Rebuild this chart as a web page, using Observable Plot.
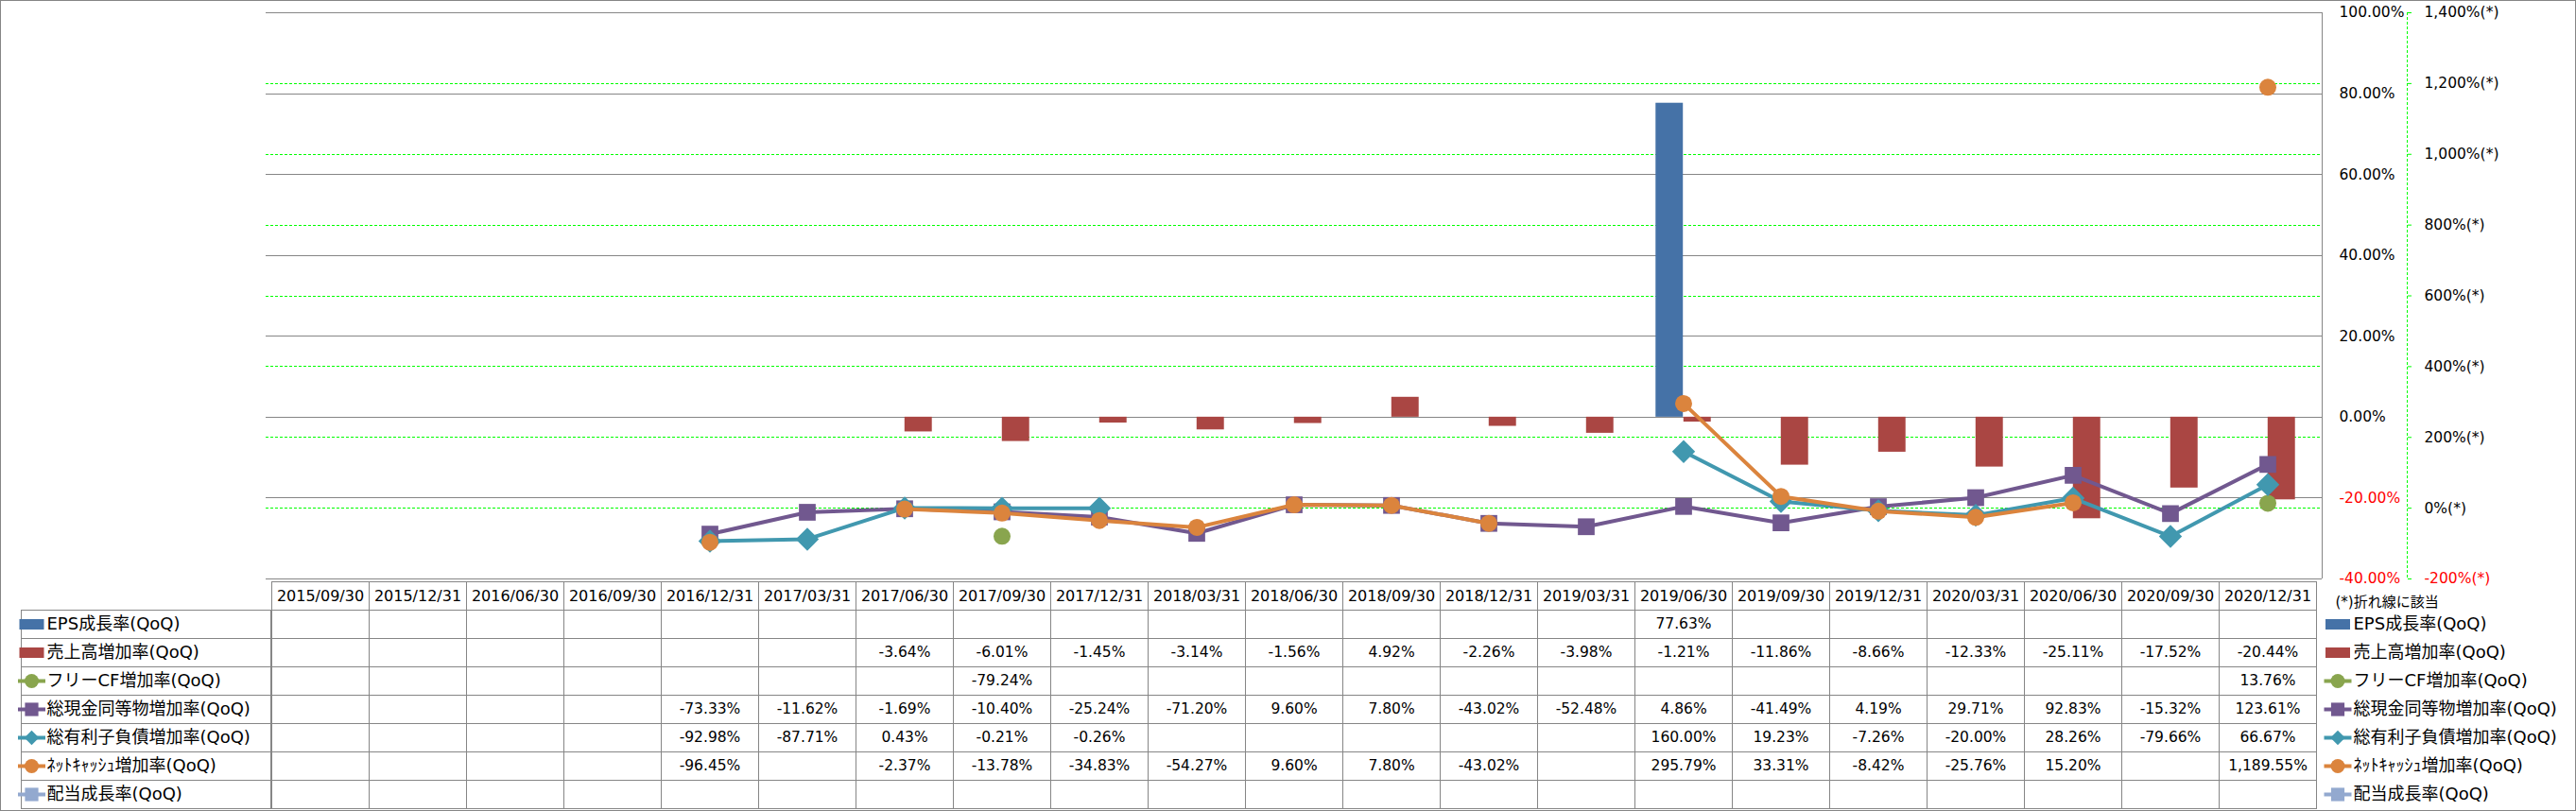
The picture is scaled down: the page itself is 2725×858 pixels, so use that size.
<!DOCTYPE html>
<html><head><meta charset="utf-8">
<script src="https://cdn.jsdelivr.net/npm/d3@7"></script>
<script src="https://cdn.jsdelivr.net/npm/@observablehq/plot@0.6"></script>
<style>
html,body{margin:0;padding:0;background:#fff;}
#wrap{position:relative;width:2725px;height:858px;overflow:hidden;background:#fff;}
#chart,#table{position:absolute;left:0;width:2725px;}
#chart{top:0;z-index:2;}
#table{top:612px;z-index:1;}
#border{position:absolute;left:0;top:0;width:2725px;height:858px;box-sizing:border-box;border:1px solid #868686;z-index:3;pointer-events:none;}
svg{overflow:visible;}
</style></head>
<body><div id="wrap"><div id="chart"></div><div id="table"></div><div id="border"></div></div>
<script>
// ---------- data ----------
const dates = ["2015/09/30","2015/12/31","2016/06/30","2016/09/30","2016/12/31","2017/03/31","2017/06/30","2017/09/30","2017/12/31","2018/03/31","2018/06/30","2018/09/30","2018/12/31","2019/03/31","2019/06/30","2019/09/30","2019/12/31","2020/03/31","2020/06/30","2020/09/30","2020/12/31"];
const seriesNames = ["EPS成長率(QoQ)","売上高増加率(QoQ)","フリーCF増加率(QoQ)","総現金同等物増加率(QoQ)","総有利子負債増加率(QoQ)","ﾈｯﾄｷｬｯｼｭ増加率(QoQ)","配当成長率(QoQ)"];
const seriesColors = ["#4572A7","#AA4643","#89A54E","#71588F","#4198AF","#DB843D","#93A9CF"];
const seriesKinds = ["bar","bar","line","line","line","line","line"];
const seriesSymbols = [null,null,"circle","square","diamond2","circle","square"];
const epsGrowth = [null,null,null,null,null,null,null,null,null,null,null,null,null,null,77.63,null,null,null,null,null,null];
const salesGrowth = [null,null,null,null,null,null,-3.64,-6.01,-1.45,-3.14,-1.56,4.92,-2.26,-3.98,-1.21,-11.86,-8.66,-12.33,-25.11,-17.52,-20.44];
const fcfGrowth = [null,null,null,null,null,null,null,-79.24,null,null,null,null,null,null,null,null,null,null,null,null,13.76];
const cashGrowth = [null,null,null,null,-73.33,-11.62,-1.69,-10.40,-25.24,-71.20,9.60,7.80,-43.02,-52.48,4.86,-41.49,4.19,29.71,92.83,-15.32,123.61];
const debtGrowth = [null,null,null,null,-92.98,-87.71,0.43,-0.21,-0.26,null,null,null,null,null,160.00,19.23,-7.26,-20.00,28.26,-79.66,66.67];
const netCashGrowth = [null,null,null,null,-96.45,null,-2.37,-13.78,-34.83,-54.27,9.60,7.80,-43.02,null,295.79,33.31,-8.42,-25.76,15.20,null,1189.55];
const dividendGrowth = [null,null,null,null,null,null,null,null,null,null,null,null,null,null,null,null,null,null,null,null,null];
const leftTicks = [-40,-20,0,20,40,60,80,100];
const rightTicks = [-200,0,200,400,600,800,1000,1200,1400];
const footnote = "(*)折れ線に該当";

const seriesValues = [epsGrowth, salesGrowth, fcfGrowth, cashGrowth, debtGrowth, netCashGrowth, dividendGrowth];

// ---------- layout ----------
const W = 2725, ML = 281, MR = 269, MT = 13, CH = 612, TH = 246;
const B = (W - ML - MR) / dates.length;
const FONT = "'DejaVu Sans','Noto Sans CJK JP',sans-serif";

const leftDomain = [leftTicks[0], leftTicks[leftTicks.length-1]];
const rightDomain = [rightTicks[0], rightTicks[rightTicks.length-1]];
const toLeft = d3.scaleLinear(rightDomain, leftDomain);
const locale = d3.formatLocale({decimal: ".", thousands: ",", grouping: [3], currency: ["", ""], minus: "-"});
const f2 = locale.format(",.2f"), f0 = locale.format(",");
const fmtLeft = v => f2(v) + "%";
const fmtRight = v => f0(Math.round(toLeft.invert(v))) + "%(*)";

const rowsOf = vals => dates.map((date, i) => ({date, v: vals[i]}));
const barW = 29.5;

const marks = [
  Plot.gridY(leftTicks, {stroke: "#868686", strokeOpacity: 1, shapeRendering: "crispEdges"}),
  Plot.gridY(rightTicks.slice(1, -1).map(toLeft), {stroke: "#00FF00", strokeOpacity: 1, strokeDasharray: "3,2", shapeRendering: "crispEdges"}),
  Plot.barY(rowsOf(epsGrowth).filter(d => d.v != null), {x: "date", y: "v", fill: seriesColors[0], insetLeft: B/2 - barW, insetRight: B/2}),
  Plot.barY(rowsOf(salesGrowth).filter(d => d.v != null), {x: "date", y: "v", fill: seriesColors[1], insetLeft: B/2, insetRight: B/2 - barW})
];
const symR = {circle: 9, square: 10, diamond2: 11};
seriesValues.forEach((vals, i) => {
  if (seriesKinds[i] !== "line") return;
  const rows = rowsOf(vals);
  marks.push(Plot.line(rows, {x: "date", y: d => d.v == null ? NaN : toLeft(d.v), stroke: seriesColors[i], strokeWidth: 4}));
  marks.push(Plot.dot(rows.filter(d => d.v != null), {x: "date", y: d => toLeft(d.v), symbol: seriesSymbols[i], r: symR[seriesSymbols[i]], fill: seriesColors[i]}));
});
marks.push(
  Plot.axisY(leftTicks.filter(t => t >= 0), {anchor: "right", label: null, tickSize: 0, tickPadding: 18, textAnchor: "start", fill: "#000", tickFormat: fmtLeft}),
  Plot.axisY(leftTicks.filter(t => t < 0), {anchor: "right", label: null, tickSize: 0, tickPadding: 18, textAnchor: "start", fill: "#FF0000", tickFormat: fmtLeft}),
  Plot.axisY(rightTicks.filter(t => t >= 0).map(toLeft), {anchor: "right", label: null, tickSize: 4, tickPadding: 14, dx: 90, stroke: "#00FF00", fill: "#000", textAnchor: "start", tickFormat: fmtRight}),
  Plot.axisY(rightTicks.filter(t => t < 0).map(toLeft), {anchor: "right", label: null, tickSize: 4, tickPadding: 14, dx: 90, stroke: "#00FF00", fill: "#FF0000", textAnchor: "start", tickFormat: fmtRight})
);

const chart = Plot.plot({
  width: W, height: CH, marginLeft: ML, marginRight: MR, marginTop: MT, marginBottom: 0,
  style: {fontFamily: FONT, fontSize: "15.5px", background: "transparent", overflow: "visible", color: "#000"},
  x: {type: "band", domain: dates, padding: 0, axis: null},
  y: {domain: leftDomain, axis: null, label: null},
  marks
});
// plot-area right border and secondary axis line
const cs = d3.select(chart);
cs.append("line").attr("x1", W - MR + 0.5).attr("x2", W - MR + 0.5).attr("y1", MT).attr("y2", CH).attr("stroke", "#868686");
cs.append("line").attr("x1", W - MR + 90.5).attr("x2", W - MR + 90.5).attr("y1", MT).attr("y2", CH).attr("stroke", "#00FF00").attr("stroke-dasharray", "3,2");
document.getElementById("chart").appendChild(chart);

// ---------- data table ----------
const HEADER = "header";
const tableRows = [HEADER, ...seriesNames];
const allCells = tableRows.flatMap(r => dates.map(date => ({date, row: r})));
const valueCells = seriesValues.flatMap((vals, i) => vals.map((v, j) => ({date: dates[j], row: seriesNames[i], v})).filter(d => d.v != null));

const rectSym = {draw(ctx) { ctx.rect(-13, -5.5, 26, 11); }};
const hlineSym = {draw(ctx) { ctx.moveTo(-14.5, 0); ctx.lineTo(14.5, 0); }};
const legendR = {circle: 7.5, square: 8, diamond2: 7};

const tmarks = [
  Plot.cell(allCells, {x: "date", y: "row", stroke: "#868686", fill: "none", shapeRendering: "crispEdges"}),
  Plot.cell(seriesNames, {x: () => dates[0], y: d => d, insetLeft: -(ML - 16), insetRight: B, stroke: "#868686", fill: "none", shapeRendering: "crispEdges"}),
  Plot.text(dates, {x: d => d, y: () => HEADER, text: d => d, fontSize: 16, fill: "#000"}),
  Plot.text(valueCells, {x: "date", y: "row", text: d => fmtLeft(d.v), fontSize: 15.5, fill: "#000"}),
  Plot.text(seriesNames, {y: d => d, text: d => d, frameAnchor: "left", textAnchor: "start", dx: -(ML - 49), fontSize: 18, fill: "#000"}),
  Plot.text(seriesNames, {y: d => d, text: d => d, frameAnchor: "right", textAnchor: "start", dx: 33, fontSize: 18, fill: "#000"}),
  Plot.text([footnote], {y: () => HEADER, text: d => d, frameAnchor: "right", textAnchor: "start", dx: 14, dy: 7, fontSize: 15, fill: "#000"})
];
seriesNames.forEach((name, i) => {
  for (const [anchor, dx] of [["left", -(ML - 33)], ["right", 16.5]]) {
    if (seriesKinds[i] === "bar") {
      tmarks.push(Plot.dot([name], {y: d => d, frameAnchor: anchor, dx, symbol: rectSym, r: 5, fill: seriesColors[i]}));
    } else {
      tmarks.push(Plot.dot([name], {y: d => d, frameAnchor: anchor, dx, symbol: hlineSym, r: 5, stroke: seriesColors[i], strokeWidth: 4, fill: "none"}));
      tmarks.push(Plot.dot([name], {y: d => d, frameAnchor: anchor, dx, symbol: seriesSymbols[i], r: legendR[seriesSymbols[i]], fill: seriesColors[i]}));
    }
  }
});

const table = Plot.plot({
  width: W, height: TH, marginLeft: ML, marginRight: MR, marginTop: 0, marginBottom: 1,
  style: {fontFamily: FONT, fontSize: "16px", background: "transparent", overflow: "visible", color: "#000"},
  x: {type: "band", domain: dates, padding: 0, axis: null},
  y: {type: "band", domain: tableRows, padding: 0, axis: null},
  marks: tmarks
});
document.getElementById("table").appendChild(table);
</script>
</body></html>
